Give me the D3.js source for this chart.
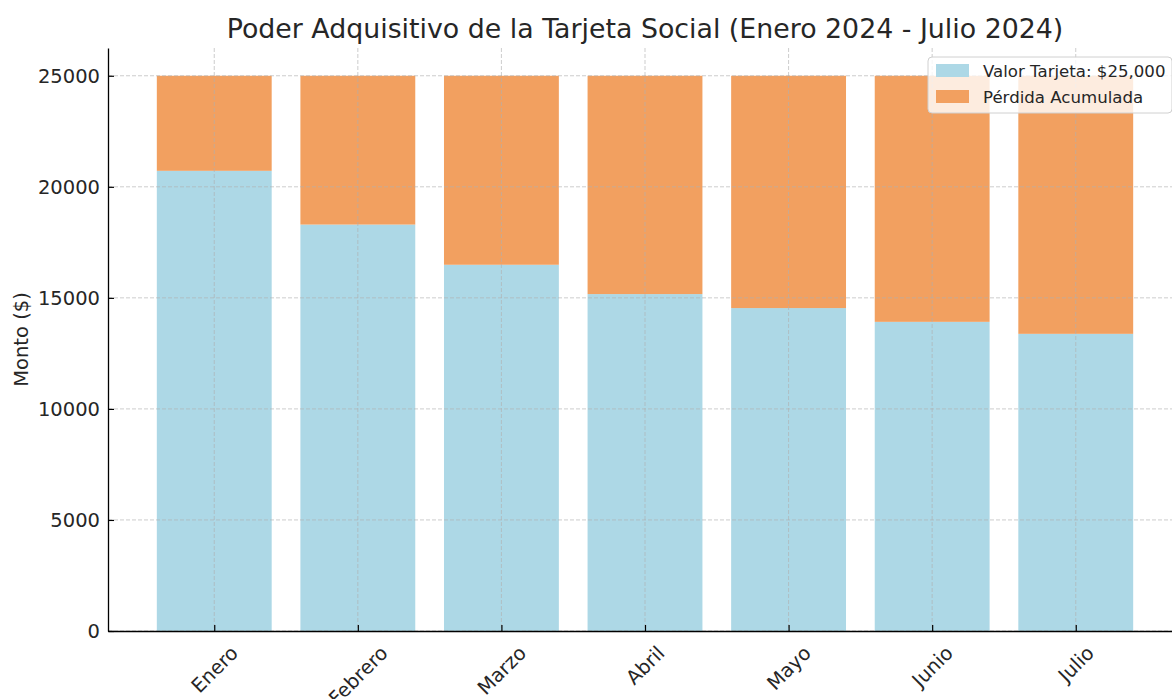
<!DOCTYPE html>
<html lang="es">
<head>
<meta charset="UTF-8">
<title>Poder Adquisitivo</title>
<script src="https://cdn.jsdelivr.net/npm/d3@7"></script>
<style>
  body { margin: 0; background: #fff; }
  text { font-family: "DejaVu Sans", sans-serif; fill: #262626; }
</style>
</head>
<body>
<div id="chart"></div>
<script>
var meses = ["Enero", "Febrero", "Marzo", "Abril", "Mayo", "Junio", "Julio"];
var valorReal = [20720, 18300, 16490, 15170, 14540, 13920, 13380];
var perdida = [4280, 6700, 8510, 9830, 10460, 11080, 11620];
var yTicks = [0, 5000, 10000, 15000, 20000, 25000];
var series = ["Valor Tarjeta: $25,000", "Pérdida Acumulada"];
var colores = ["#ADD8E6", "#F2A060"];

var width = 1172, height = 699;
var mLeft = 108, mRight = 1182, mTop = 48, mBottom = 631;

var svg = d3.select("#chart").append("svg")
    .attr("width", width).attr("height", height);

var x = d3.scaleLinear().domain([-0.74, 6.74]).range([mLeft, mRight]);
var y = d3.scaleLinear().domain([0, 26250]).range([mBottom, mTop]);
var bw = x(0.8) - x(0);

// barras apiladas
var g = svg.append("g");
g.selectAll("rect.valor").data(valorReal).enter().append("rect")
    .attr("x", function (d, i) { return x(i) - bw / 2; })
    .attr("y", function (d) { return y(d); })
    .attr("width", bw)
    .attr("height", function (d) { return y(0) - y(d); })
    .attr("fill", colores[0]);
g.selectAll("rect.perdida").data(perdida).enter().append("rect")
    .attr("x", function (d, i) { return x(i) - bw / 2; })
    .attr("y", function (d, i) { return y(valorReal[i] + d); })
    .attr("width", bw)
    .attr("height", function (d) { return y(0) - y(d); })
    .attr("fill", colores[1]);

// grilla encima de las barras
var grid = svg.append("g").attr("stroke", "#b0b0b0").attr("stroke-opacity", 0.7)
    .attr("stroke-dasharray", "4,2").attr("stroke-width", 0.9);
grid.selectAll("line.h").data(yTicks).enter().append("line")
    .attr("x1", mLeft).attr("x2", mRight)
    .attr("y1", function (d) { return y(d); }).attr("y2", function (d) { return y(d); });
grid.selectAll("line.v").data(meses).enter().append("line")
    .attr("y1", mTop).attr("y2", mBottom)
    .attr("x1", function (d, i) { return x(i); }).attr("x2", function (d, i) { return x(i); });

// eje y
var yAxis = d3.axisLeft(y).tickValues(yTicks).tickFormat(d3.format("d"))
    .tickSizeInner(-6).tickSizeOuter(0).tickPadding(8);
var ya = svg.append("g").attr("transform", "translate(" + mLeft + ",0)").call(yAxis);
ya.select(".domain").attr("stroke", "#000").attr("stroke-width", 1.3);
ya.selectAll(".tick line").attr("stroke", "#000").attr("stroke-width", 1.2);
ya.selectAll(".tick text").style("font-family", "DejaVu Sans").style("font-size", "19.5px").attr("fill", "#262626");

// eje x
var xAxis = d3.axisBottom(x).tickValues(d3.range(meses.length))
    .tickFormat(function (d) { return meses[d]; }).tickSizeInner(-6).tickSizeOuter(0);
var xa = svg.append("g").attr("transform", "translate(0," + mBottom + ")").call(xAxis);
xa.select(".domain").attr("stroke", "#000").attr("stroke-width", 1.3);
xa.selectAll(".tick line").attr("stroke", "#000").attr("stroke-width", 1.2);
xa.selectAll(".tick text")
    .style("font-family", "DejaVu Sans").style("font-size", "19.5px").attr("fill", "#262626")
    .attr("text-anchor", "middle").attr("dominant-baseline", "central")
    .each(function () {
        var t = d3.select(this);
        var w = this.getComputedTextLength();
        var h = 19;
        var cy = 12 + (w + h) / Math.SQRT2 / 2;
        t.attr("y", null).attr("dy", null)
         .attr("transform", "translate(0," + cy + ") rotate(-45)");
    });

// título y etiqueta
svg.append("text").attr("x", (mLeft + mRight) / 2).attr("y", 38)
    .attr("text-anchor", "middle").style("font-size", "26.8px")
    .text("Poder Adquisitivo de la Tarjeta Social (Enero 2024 - Julio 2024)");
svg.append("text").attr("transform", "translate(21," + ((mTop + mBottom) / 2) + ") rotate(-90)")
    .attr("text-anchor", "middle").attr("dominant-baseline", "central")
    .style("font-size", "19.5px").text("Monto ($)");

// leyenda
var lg = svg.append("g").attr("transform", "translate(928,57)");
lg.append("rect").attr("width", 244).attr("height", 56).attr("rx", 4)
    .attr("fill", "#fff").attr("fill-opacity", 0.8).attr("stroke", "#d0d0d0");
series.forEach(function (s, i) {
    lg.append("rect").attr("x", 8).attr("y", 7 + i * 26).attr("width", 33).attr("height", 13)
        .attr("fill", colores[i]);
    lg.append("text").attr("x", 55).attr("y", 14 + i * 26).attr("dominant-baseline", "central")
        .style("font-size", "16.6px").text(s);
});
</script>
</body>
</html>
